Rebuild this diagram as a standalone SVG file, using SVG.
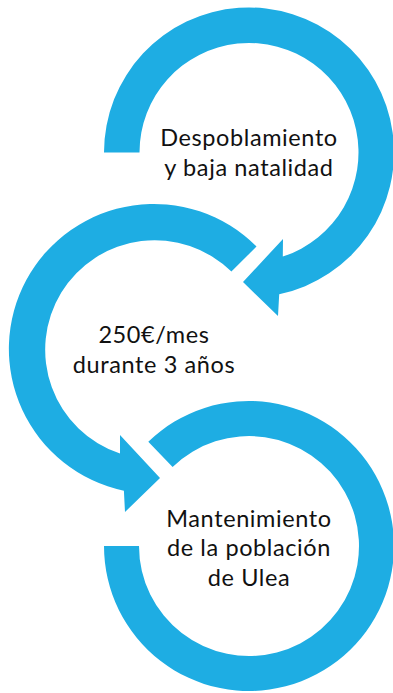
<svg xmlns="http://www.w3.org/2000/svg" width="393" height="693" viewBox="0 0 393 693">
<style>
.arrow{fill:#1EADE3;stroke:none}
.lbl{font-family:Lato,"Open Sans","Liberation Sans",sans-serif;font-size:23.5px;letter-spacing:0.6px;fill:#111;text-anchor:middle}
</style>
<rect width="393" height="693" fill="#fff"/>
<g id="connectors">
<path id="arc1" class="arrow" d="M104,152.5 A145,145 0 1 1 279.2,294.3 L278,316 L243,282 L283,239 L282.8,256.6 A109.5,109.5 0 1 0 139.5,152.5 Z"/>
<path id="arc2" class="arrow" d="M256.5,246.5 A145,145 0 1 0 123.9,490.8 L125,512 L160,478 L120,435 L120,453.6 A109.5,109.5 0 1 1 231.4,271.6 Z"/>
<path id="arc3" class="arrow" d="M148.3,441.7 A145,145 0 1 1 104,546 L139,546 A110,110 0 1 0 172.6,466.9 Z"/>
</g>
<g id="node1"><text class="lbl" x="249" y="146">Despoblamiento</text><text class="lbl" x="249" y="176">y baja natalidad</text></g>
<g id="node2"><text class="lbl" x="154" y="343">250€/mes</text><text class="lbl" x="154" y="373">durante 3 años</text></g>
<g id="node3"><text class="lbl" x="249" y="527">Mantenimiento</text><text class="lbl" x="249" y="556">de la población</text><text class="lbl" x="249" y="586">de Ulea</text></g>
</svg>
